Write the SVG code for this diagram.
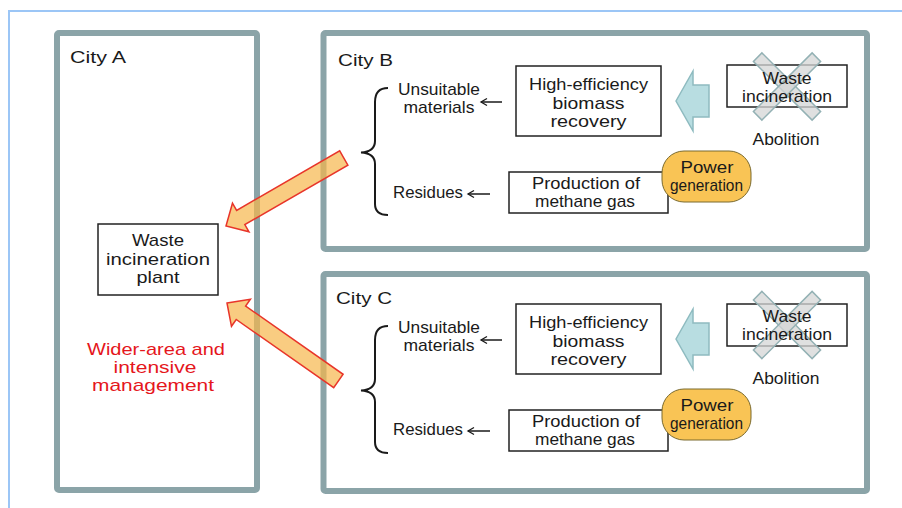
<svg xmlns="http://www.w3.org/2000/svg" width="902" height="508" viewBox="0 0 902 508">
<defs>
<style>
.frame{fill:none;stroke:#9cc6f6;stroke-width:2}
.city{fill:#fff;stroke:#8ba4a8;stroke-width:6}
.box{fill:#fff;stroke:#222;stroke-width:1.5}
.t{font-family:"Liberation Sans",Arial,sans-serif;font-size:17px;fill:#1a1a1a}
.m{text-anchor:middle}
.red{fill:#e5161c}
.brace{fill:none;stroke:#1a1a1a;stroke-width:2}
.small{fill:none;stroke:#1a1a1a;stroke-width:1.5}
.pill{fill:#f9c455;stroke:#7a6a2e;stroke-width:1}
.blue{fill:#b8dde1;stroke:#8ebbc0;stroke-width:1.5}
.xbar{fill:#d4d6d6;fill-opacity:0.75;stroke:#93b1b4;stroke-width:1.5}
.orange{fill:#f7b64c;fill-opacity:0.7;stroke:#e8352a;stroke-width:1.5;stroke-linejoin:miter}
</style>
<marker id="ah" markerUnits="userSpaceOnUse" markerWidth="10" markerHeight="10" refX="0" refY="0" orient="auto" overflow="visible">
<path d="M-6,-3.5 L0,0 L-6,3.5" fill="none" stroke="#1a1a1a" stroke-width="1.3"/>
</marker>
<g id="xmark">
<rect class="xbar" x="-41.5" y="-6" width="83" height="12" transform="rotate(45)"/>
<rect class="xbar" x="-41.5" y="-6" width="83" height="12" transform="rotate(-45)"/>
</g>
<polygon id="bigarrow" class="orange" points="0,0 17,-16.5 17,-8.2 136,-8.2 136,8.2 17,8.2 17,16.5"/>
</defs>
<rect width="902" height="508" fill="#fff"/>
<path class="frame" d="M9,508 V11 H902"/>

<g id="city-a">
<rect class="city" x="57" y="33" width="200" height="457" rx="2"/>
<text class="t" x="70" y="63" textLength="56" lengthAdjust="spacingAndGlyphs">City A</text>
</g>
<g id="city-b">
<rect class="city" x="323.5" y="33" width="543.5" height="216" rx="2"/>
<text class="t" x="338" y="66" textLength="55" lengthAdjust="spacingAndGlyphs">City B</text>
</g>
<g id="city-c">
<rect class="city" x="323.5" y="274" width="543.5" height="217" rx="2"/>
<text class="t" x="336" y="304" textLength="56" lengthAdjust="spacingAndGlyphs">City C</text>
</g>

<g id="plant-a">
<rect class="box" x="98" y="224" width="120" height="71"/>
<text class="t m" x="158" y="246" textLength="52" lengthAdjust="spacingAndGlyphs">Waste</text>
<text class="t m" x="158" y="265" textLength="104" lengthAdjust="spacingAndGlyphs">incineration</text>
<text class="t m" x="158" y="283" textLength="43" lengthAdjust="spacingAndGlyphs">plant</text>
</g>
<g id="label-a">
<text class="t m red" x="156" y="355" textLength="138" lengthAdjust="spacingAndGlyphs">Wider-area and</text>
<text class="t m red" x="155" y="373" textLength="83" lengthAdjust="spacingAndGlyphs">intensive</text>
<text class="t m red" x="153" y="391" textLength="122" lengthAdjust="spacingAndGlyphs">management</text>
</g>

<!-- City B contents -->
<g id="b-unsuitable">
<text class="t m" x="439" y="95" textLength="82" lengthAdjust="spacingAndGlyphs">Unsuitable</text>
<text class="t m" x="439" y="113" textLength="71" lengthAdjust="spacingAndGlyphs">materials</text>
</g>
<g id="b-residues">
<text class="t m" x="428" y="198" textLength="70" lengthAdjust="spacingAndGlyphs">Residues</text>
</g>
<g id="b-recovery">
<rect class="box" x="516" y="66" width="145" height="70"/>
<text class="t m" x="588.5" y="90" textLength="119" lengthAdjust="spacingAndGlyphs">High-efficiency</text>
<text class="t m" x="588.5" y="109" textLength="72" lengthAdjust="spacingAndGlyphs">biomass</text>
<text class="t m" x="588.5" y="127" textLength="76" lengthAdjust="spacingAndGlyphs">recovery</text>
</g>
<g id="b-methane">
<rect class="box" x="509" y="172" width="159" height="41"/>
<text class="t m" x="586" y="188.5" textLength="108" lengthAdjust="spacingAndGlyphs">Production of</text>
<text class="t m" x="585" y="206.5" textLength="100" lengthAdjust="spacingAndGlyphs">methane gas</text>
</g>
<g id="b-power">
<rect class="pill" x="662" y="151" width="89" height="51" rx="22"/>
<text class="t m" x="707" y="173" textLength="53" lengthAdjust="spacingAndGlyphs">Power</text>
<text class="t m" x="706.5" y="191" textLength="73" lengthAdjust="spacingAndGlyphs">generation</text>
</g>
<g id="b-incineration">
<rect class="box" x="727" y="65" width="120" height="42"/>
<use href="#xmark" x="787" y="86.5"/>
<text class="t m" x="787" y="84" textLength="49" lengthAdjust="spacingAndGlyphs">Waste</text>
<text class="t m" x="787" y="102" textLength="90" lengthAdjust="spacingAndGlyphs">incineration</text>
<text class="t m" x="786" y="145" textLength="67" lengthAdjust="spacingAndGlyphs">Abolition</text>
</g>

<!-- City C contents -->
<g id="c-unsuitable">
<text class="t m" x="439" y="333" textLength="82" lengthAdjust="spacingAndGlyphs">Unsuitable</text>
<text class="t m" x="439" y="351" textLength="71" lengthAdjust="spacingAndGlyphs">materials</text>
</g>
<g id="c-residues">
<text class="t m" x="428" y="435" textLength="70" lengthAdjust="spacingAndGlyphs">Residues</text>
</g>
<g id="c-recovery">
<rect class="box" x="516" y="304" width="145" height="70"/>
<text class="t m" x="588.5" y="328" textLength="119" lengthAdjust="spacingAndGlyphs">High-efficiency</text>
<text class="t m" x="588.5" y="347" textLength="72" lengthAdjust="spacingAndGlyphs">biomass</text>
<text class="t m" x="588.5" y="365" textLength="76" lengthAdjust="spacingAndGlyphs">recovery</text>
</g>
<g id="c-methane">
<rect class="box" x="509" y="410" width="159" height="41"/>
<text class="t m" x="586" y="426.5" textLength="108" lengthAdjust="spacingAndGlyphs">Production of</text>
<text class="t m" x="585" y="444.5" textLength="100" lengthAdjust="spacingAndGlyphs">methane gas</text>
</g>
<g id="c-power">
<rect class="pill" x="662" y="389" width="89" height="51" rx="22"/>
<text class="t m" x="707" y="411" textLength="53" lengthAdjust="spacingAndGlyphs">Power</text>
<text class="t m" x="706.5" y="429" textLength="73" lengthAdjust="spacingAndGlyphs">generation</text>
</g>
<g id="c-incineration">
<rect class="box" x="727" y="304" width="120" height="42"/>
<use href="#xmark" x="787" y="325"/>
<text class="t m" x="787" y="322" textLength="49" lengthAdjust="spacingAndGlyphs">Waste</text>
<text class="t m" x="787" y="340" textLength="90" lengthAdjust="spacingAndGlyphs">incineration</text>
<text class="t m" x="786" y="384" textLength="67" lengthAdjust="spacingAndGlyphs">Abolition</text>
</g>

<g id="connectors">
<path class="brace" d="M388,88 C379,88 375,93 375,102 L375,141 C375,148 370,152 361,152.5 C370,153 375,157 375,164 L375,204 C375,211 379,215 388,215"/>
<path class="brace" d="M388,326 C379,326 375,331 375,340 L375,379 C375,386 370,390 361,390.5 C370,391 375,395 375,402 L375,442 C375,449 379,453 388,453"/>
<path class="small" d="M502,102 H481" marker-end="url(#ah)"/>
<path class="small" d="M490,194 H468" marker-end="url(#ah)"/>
<path class="small" d="M502,340 H481" marker-end="url(#ah)"/>
<path class="small" d="M490,431 H468" marker-end="url(#ah)"/>
<polygon class="blue" points="676,101 693,71 693,85 709,85 709,117 693,117 693,131"/>
<polygon class="blue" points="676,339 693,309 693,323 709,323 709,355 693,355 693,369"/>
<use href="#bigarrow" transform="translate(226,226) rotate(-30)"/>
<use href="#bigarrow" transform="translate(227,303) rotate(35)"/>
</g>
</svg>
